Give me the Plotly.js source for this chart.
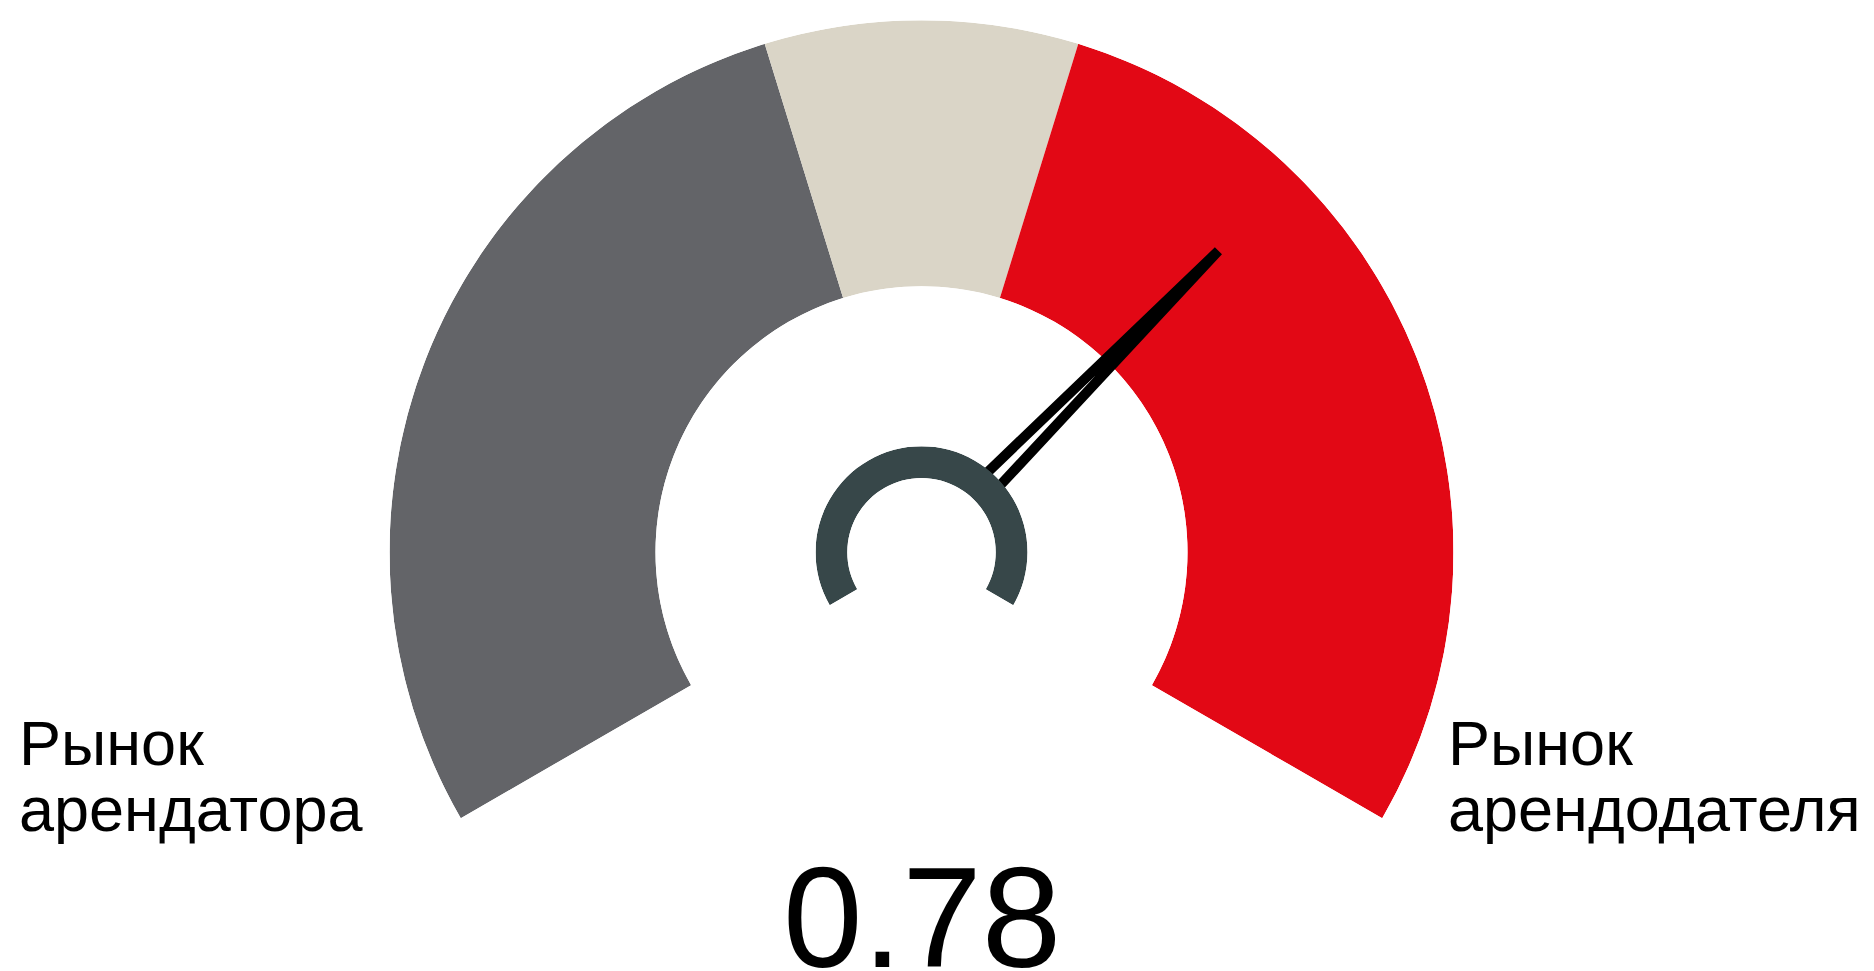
<!DOCTYPE html>
<html><head><meta charset="utf-8">
<script src="https://cdn.plot.ly/plotly-3.0.1.min.js"></script>
<style>html,body{margin:0;padding:0;background:#fff}#chart{width:1874px;height:971px}</style>
</head><body><div id="chart"></div>
<script>
// ---- data ----
const gaugeMin = 0.3;
const gaugeMax = 1.0;
const stepNames = ['Рынок арендатора', 'Баланс', 'Рынок арендодателя'];
const stepStarts = [0.3, 0.6, 0.7];
const stepEnds = [0.6, 0.7, 1.0];
const stepColors = ['#636468', '#dad5c7', '#e20815'];
const value = 0.78;
const leftLabel = ['Рынок', 'арендатора'];
const rightLabel = ['Рынок', 'арендодателя'];

// ---- layout geometry ----
const W = 1874, H = 971;
const startAngle = 210, sweep = 240;
function ang(v) { return startAngle - sweep * (v - gaugeMin) / (gaugeMax - gaugeMin); }
function spanDeg(a, b) { return sweep * (b - a) / (gaugeMax - gaugeMin); }
const cx = 921.5, cy = 552.2, R = 532, hubR = 106;
function dom(r) { return { x: [(cx - r) / W, (cx + r) / W], y: [1 - (cy + 0.5 * r) / H, 1 - (cy - r) / H] }; }

const polarBase = {
  sector: [-30, 210],
  bgcolor: 'rgba(0,0,0,0)',
  radialaxis: { visible: false, range: [0, 1] },
  angularaxis: { visible: false, rotation: 0, direction: 'counterclockwise' }
};

const traces = [
  {
    type: 'barpolar', subplot: 'polar',
    r: stepStarts.map(() => 1),
    theta: stepStarts.map((s, i) => ang((s + stepEnds[i]) / 2)),
    width: stepStarts.map((s, i) => spanDeg(s, stepEnds[i])),
    text: stepNames,
    marker: { color: stepColors, line: { width: 0 } },
    hoverinfo: 'text', showlegend: false
  },
  {
    type: 'scatterpolar', subplot: 'polar2', mode: 'lines',
    r: [0.19, 0.795, 0.19],
    theta: [ang(value) + 5.2, ang(value), ang(value) - 5.2],
    line: { color: '#000000', width: 10 },
    hoverinfo: 'skip', showlegend: false
  },
  {
    type: 'barpolar', subplot: 'polar3',
    r: [1], theta: [ang((gaugeMin + gaugeMax) / 2)], width: [sweep],
    marker: { color: '#374749', line: { width: 0 } },
    hoverinfo: 'skip', showlegend: false
  }
];

const font = 'Liberation Sans, Arial, Helvetica, sans-serif';
function ann(text, xpx, baselinePx, size, anchor) {
  const mid = baselinePx - (0.905 - 0.212) / 2 * size;
  return { text: text, x: xpx / W, y: 1 - mid / H, xref: 'paper', yref: 'paper',
    xanchor: anchor, yanchor: 'middle', showarrow: false,
    font: { family: font, size: size, color: '#000000' } };
}

const layout = {
  width: W, height: H,
  margin: { l: 0, r: 0, t: 0, b: 0 },
  paper_bgcolor: '#ffffff',
  showlegend: false,
  polar: Object.assign({}, polarBase, { domain: dom(R), hole: 0.5 }),
  polar2: Object.assign({}, polarBase, { domain: dom(R), hole: 0 }),
  polar3: Object.assign({}, polarBase, { domain: dom(hubR), hole: 0.70 }),
  annotations: [
    ann(leftLabel[0], 17, 765, 63, 'left'),
    ann(leftLabel[1], 17, 830.7, 63, 'left'),
    ann(rightLabel[0], 1446, 765, 63, 'left'),
    ann(rightLabel[1], 1446, 830.7, 63, 'left'),
    ann(value.toFixed(2), cx, 966.7, 143, 'center')
  ]
};

Plotly.newPlot('chart', traces, layout, { displayModeBar: false, staticPlot: true });
</script>
</body></html>
